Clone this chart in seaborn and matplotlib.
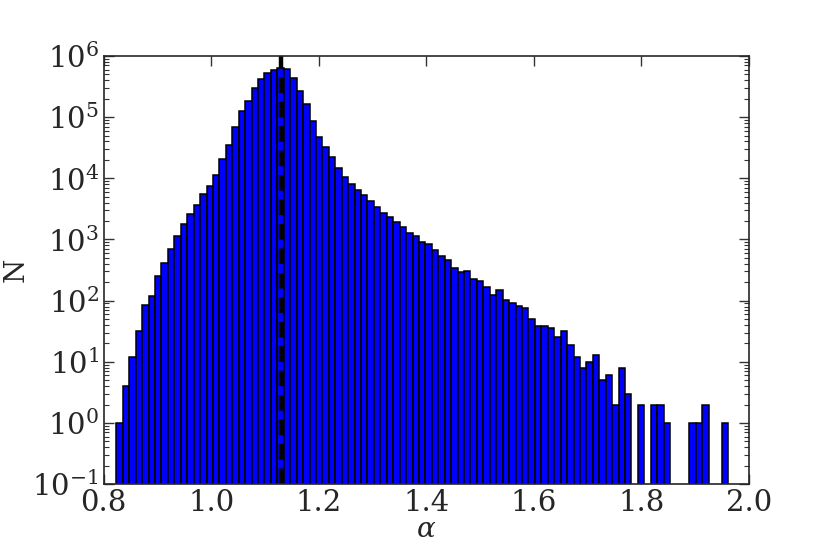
import matplotlib
matplotlib.use("Agg")
import matplotlib.pyplot as plt
import numpy as np
import pandas as pd
import seaborn as sns

# histogram of alpha (95 equal bins)
bin_start = 0.8235
bin_width = 0.01198
counts = [
    1, 4, 12, 32, 86, 120, 250, 420, 700, 1120,
    1790, 2600, 3700, 5450, 7550, 11200, 20600, 35500, 68300, 125000,
    187000, 301000, 423000, 524000, 590000, 631000, 601000, 434000, 263000, 163000,
    84900, 47100, 32100, 21900, 14700, 10600, 8150, 6500, 5380, 4300,
    3430, 2740, 2300, 1900, 1630, 1290, 1120, 908, 836, 662,
    536, 460, 337, 297, 305, 225, 212, 165, 126, 147,
    101, 91, 83, 77, 50, 38, 38, 36, 25, 32,
    19, 12, 8, 10, 13, 5, 6, 2, 8, 3,
    0, 2, 0, 2, 2, 1, 0, 0, 0, 1,
    1, 2, 0, 0, 1,
]
alpha_peak = 1.13

edges = bin_start + bin_width * np.arange(len(counts) + 1)
df = pd.DataFrame({"alpha": 0.5 * (edges[:-1] + edges[1:]), "N": counts})

sns.set_style("ticks")
plt.rcParams["font.family"] = ["DejaVu Serif"]
plt.rcParams["mathtext.fontset"] = "dejavuserif"
plt.rcParams["axes.unicode_minus"] = False
plt.rcParams["xtick.direction"] = "in"
plt.rcParams["ytick.direction"] = "in"
plt.rcParams["xtick.top"] = True
plt.rcParams["ytick.right"] = True

fig = plt.figure(figsize=(8.3, 5.54), dpi=100)
ax = fig.add_axes([0.125, 0.126, 0.777, 0.773])

sns.histplot(data=df, x="alpha", weights="N", bins=list(edges), ax=ax,
             color="blue", edgecolor="black", linewidth=1.1, alpha=1)
ax.set_yscale("log")
ax.axvline(alpha_peak, color="black", linewidth=3.2, linestyle=(0, (3.5, 2.0)))

ax.set_xlim(0.8, 2.0)
ax.set_ylim(0.1, 1e6)
ax.set_xticks([0.8, 1.0, 1.2, 1.4, 1.6, 1.8, 2.0])
ax.set_xlabel(r"$\alpha$", fontsize=20, labelpad=-1)
ax.set_ylabel("N", fontsize=20, labelpad=2)
ax.tick_params(axis="both", which="major", labelsize=21, length=7, width=1, color="0.2")
ax.tick_params(axis="y", which="minor", length=3.5, width=0.8, color="0.2")
ax.tick_params(axis="x", which="minor", bottom=False, top=False)
for s in ax.spines.values():
    s.set_linewidth(1.2)
    s.set_color("0.15")

fig.savefig("out.png", dpi=100)
